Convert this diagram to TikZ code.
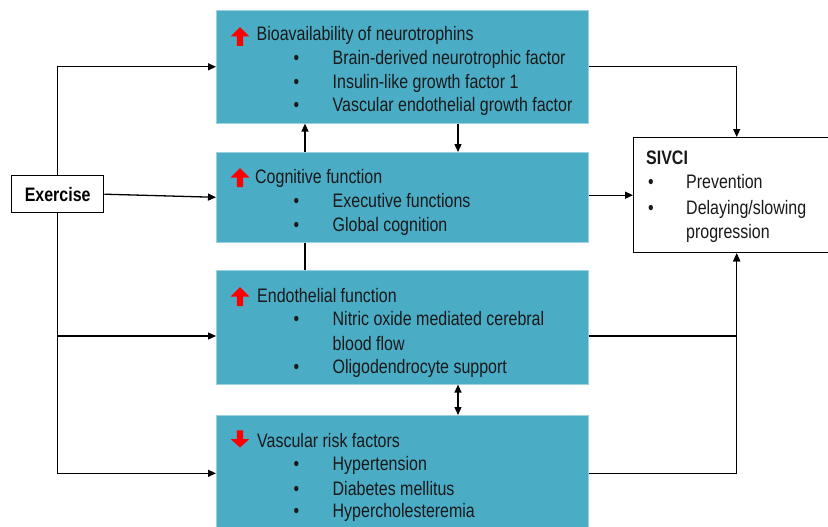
\documentclass[tikz,border=0pt]{standalone}
\usepackage{fontspec}
\setmainfont{Liberation Sans}[FakeStretch=0.82]
\usetikzlibrary{arrows.meta}
\definecolor{boxteal}{HTML}{4BACC6}
\tikzset{
  tbox/.style={fill=boxteal, draw=boxteal!55!white, line width=0.6pt, anchor=north west, inner sep=0pt},
  wbox/.style={draw=black, line width=1.4pt, fill=white, anchor=north west, inner sep=0pt},
  txt/.style={anchor=base west, inner sep=0pt, text=black!90},
  bul/.style={anchor=base, inner sep=0pt, text=black!90},
  arr/.style={line width=1.3pt, -{Triangle[length=8pt,width=7pt]}},
  darr/.style={line width=1.3pt, {Triangle[length=8pt,width=7pt]}-{Triangle[length=8pt,width=7pt]}},
  conn/.style={line width=1.3pt},
  pics/redup/.style={code={\fill[red] (0,-9.5) -- (9.3,0) -- (3.2,0) -- (3.2,9.5) -- (-3.2,9.5) -- (-3.2,0) -- (-9.3,0) -- cycle;}}
}
\begin{document}
\begin{tikzpicture}[x=1pt,y=-1pt, font=\fontsize{19.5}{23}\selectfont]
\useasboundingbox (0,0) rectangle (828,527);
% boxes
\node[tbox, minimum width=372pt, minimum height=113pt] (b1) at (216,10) {};
\node[tbox, minimum width=372pt, minimum height=90pt] (b2) at (216,152) {};
\node[tbox, minimum width=372pt, minimum height=114pt] (b3) at (216,270) {};
\node[tbox, minimum width=372pt, minimum height=116pt] (b4) at (216,415) {};
\node[wbox, minimum width=92pt, minimum height=37pt, font=\fontsize{19.5}{23}\selectfont\bfseries] (ex) at (11,175) {Exercise};
\node[wbox, minimum width=206pt, minimum height=115pt] (sv) at (633,137) {};
% red arrows
\pic at (240,36.5) {redup};
\pic at (240,177.5) {redup};
\pic at (240,296.5) {redup};
\pic[yscale=-0.9] at (240,439) {redup};
% box 1 text
\node[txt] (t1) at (256.5,41) {Bioavailability of neurotrophins};
\node[bul] (t1ab) at (296.5,64.5) {•};
\node[txt] (t1a) at (332.5,64.5) {Brain-derived neurotrophic factor};
\node[bul] (t1bb) at (296.5,88.5) {•};
\node[txt] (t1b) at (332.5,88.5) {Insulin-like growth factor 1};
\node[bul] (t1cb) at (296.5,112) {•};
\node[txt] (t1c) at (332.5,112) {Vascular endothelial growth factor};
% box 2 text
\node[txt] (t2) at (255,183) {Cognitive function};
\node[bul] (t2ab) at (296.5,207) {•};
\node[txt] (t2a) at (332.5,207) {Executive functions};
\node[bul] (t2bb) at (296.5,231) {•};
\node[txt] (t2b) at (332.5,231) {Global cognition};
% box 3 text
\node[txt] (t3) at (257,302) {Endothelial function};
\node[bul] (t3ab) at (296.5,325) {•};
\node[txt] (t3a) at (332.5,325) {Nitric oxide mediated cerebral};
\node[txt] (t3a2) at (332.5,350) {blood flow};
\node[bul] (t3bb) at (296.5,373) {•};
\node[txt] (t3b) at (332.5,373) {Oligodendrocyte support};
% box 4 text
\node[txt] (t4) at (257,447) {Vascular risk factors};
\node[bul] (t4ab) at (296.5,470) {•};
\node[txt] (t4a) at (332.5,470) {Hypertension};
\node[bul] (t4bb) at (296.5,495) {•};
\node[txt] (t4b) at (332.5,495) {Diabetes mellitus};
\node[bul] (t4cb) at (296.5,517) {•};
\node[txt] (t4c) at (332.5,517) {Hypercholesteremia};
% SIVCI text
\node[txt, font=\fontsize{19.5}{23}\selectfont\bfseries] (s0) at (646,164) {SIVCI};
\node[bul] (s1b) at (651,188) {•};
\node[txt] (s1) at (686,188) {Prevention};
\node[bul] (s2b) at (651,214) {•};
\node[txt] (s2) at (686,214) {Delaying/slowing};
\node[txt] (s3) at (686,238) {progression};
% connectors
\coordinate (x305) at (305,0);
\coordinate (x458) at (458,0);
\coordinate (y336) at (0,336);
\draw[arr] (b2.north -| x305) -- (b1.south -| x305);
\draw[arr] (b1.south -| x458) -- (b2.north -| x458);
\draw[conn] (b3.north -| x305) -- (b2.south -| x305);
\draw[darr] (b3.south -| x458) -- (b4.north -| x458);
\draw[arr] (ex.north) |- (b1.west);
\draw[arr] (ex.east) -- (b2.west);
\draw[arr] (ex.south) |- (b3.west |- y336);
\draw[arr] (ex.south) |- (b4.west);
\draw[arr] (b1.east) -| (sv.north);
\draw[arr] (b2.east |- sv.west) -- (sv.west);
\draw[arr] (b3.east |- y336) -| (sv.south);
\draw[arr] (b4.east) -| (sv.south);
\end{tikzpicture}
\end{document}
